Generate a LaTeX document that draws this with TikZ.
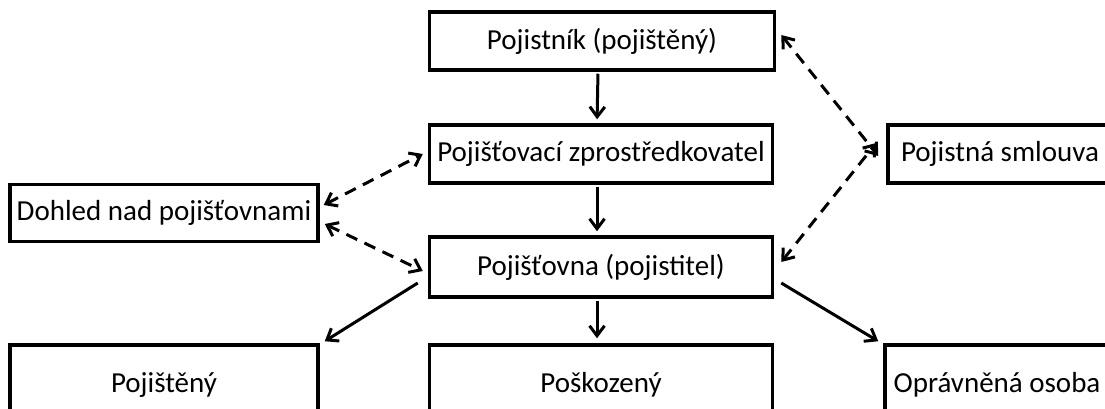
\documentclass[tikz,border=0pt]{standalone}
\usepackage{fontspec}
\setmainfont{Carlito}
\usetikzlibrary{positioning, arrows.meta}

\begin{document}
\begin{tikzpicture}[
    x=1pt, y=-1pt,
    box/.style={rectangle, draw=black, line width=3.5pt, inner sep=2pt, align=center, font=\fontsize{29}{34}\selectfont},
    flow/.style={-{Straight Barb[length=10pt, width=15pt, line width=3pt]}, line width=3pt},
    link/.style={{Straight Barb[length=10pt, width=15pt, line width=3pt]}-{Straight Barb[length=10pt, width=15pt, line width=3pt]}, line width=3pt, dash pattern=on 12pt off 8pt}
]
    \useasboundingbox (0,0) rectangle (1105,409);
    \clip (0,0) rectangle (1105,409);

    % main column
    \node[box, minimum width=345pt, minimum height=58pt] (pojistnik) at (602,41) {Pojistník (pojištěný)};
    \node[box, minimum width=343pt, minimum height=58pt] (zprostredkovatel) at (601,154) {Pojišťovací zprostředkovatel};
    \node[box, minimum width=343pt, minimum height=60pt] (pojistovna) at (601,267) {Pojišťovna (pojistitel)};

    % sides
    \node[box, minimum width=308pt, minimum height=57pt] (dohled) at (164,213) {Dohled nad pojišťovnami};
    \node[box, minimum width=224pt, minimum height=58pt] (smlouva) at (1000,154) {Pojistná smlouva};

    % bottom row
    \node[box, minimum width=308pt, minimum height=80pt] (pojisteny) at (164,385) {Pojištěný};
    \node[box, minimum width=343pt, minimum height=80pt] (poskozeny) at (601,385) {Poškozený};
    \node[box, minimum width=224pt, minimum height=80pt] (opravnena) at (997,385) {Oprávněná osoba};

    \draw[flow, shorten <=2pt, shorten >=4pt] ([xshift=-4pt]pojistnik.south) -- ([xshift=-4pt]zprostredkovatel.north);
    \draw[flow, shorten <=2pt, shorten >=4pt] ([xshift=-4pt]zprostredkovatel.south) -- ([xshift=-4pt]pojistovna.north);
    \draw[flow, shorten <=2pt, shorten >=5pt] ([xshift=-4pt]pojistovna.south) -- ([xshift=-4pt]poskozeny.north);
    \draw[flow] ([xshift=-10pt, yshift=-16pt]pojistovna.west) -- ([xshift=5pt, yshift=2pt]pojisteny.north east);
    \draw[flow] ([xshift=7pt, yshift=-16pt]pojistovna.east) -- ([xshift=-5pt, yshift=2pt]opravnena.north west);

    % dashed links
    \draw[link] ([xshift=4pt, yshift=8pt]dohled.east) -- ([xshift=-5pt]zprostredkovatel.west);
    \draw[link] ([xshift=5pt, yshift=-11pt]dohled.east) -- ([xshift=-5pt, yshift=-4pt]pojistovna.west);
    \draw[link] ([xshift=5pt, yshift=6pt]pojistnik.east) -- ([xshift=-8pt, yshift=-2pt]smlouva.west);
    \draw[link] ([xshift=7pt, yshift=5pt]pojistovna.east) -- ([xshift=-10pt, yshift=11pt]smlouva.west);
\end{tikzpicture}
\end{document}
